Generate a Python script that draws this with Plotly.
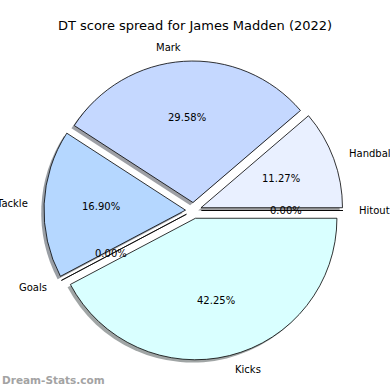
import numpy as np
import plotly.graph_objects as go

# ---- data ----
labels = ["Hitout", "Handball", "Mark", "Tackle", "Goals", "Kicks"]
values = [0, 8, 21, 12, 0, 30]
colors = ["#dfe9ff", "#e9f0ff", "#c5d8ff", "#b5d7ff", "#cfe6ff", "#d9ffff"]
title_text = "DT score spread for James Madden (2022)"
watermark = "Dream-Stats.com"

# ---- layout constants (pixels) ----
W = H = 390
CX, CY = 193.5, 210.5      # pie centre in px
R = 141.5                  # radius in px
PULL = 0.0565              # explode fraction
SH = 2.8                   # shadow offset px

half = R * (1 + PULL)
dom_x = [(CX - half) / W, (CX + half) / W]
dom_y = [1 - (CY + half) / H, 1 - (CY - half) / H]


def hex2rgb(h):
    h = h.lstrip("#")
    return tuple(int(h[i:i + 2], 16) for i in (0, 2, 4))


shadow_cols = ["rgba(%d,%d,%d,0.5)" % tuple(int(0.3 * c) for c in hex2rgb(col)) for col in colors]

fig = go.Figure()
# shadow
fig.add_trace(go.Pie(
    labels=labels, values=values, sort=False, direction="counterclockwise", rotation=90,
    pull=[PULL] * len(values), textinfo="none", hoverinfo="skip", showlegend=False,
    marker=dict(colors=shadow_cols, line=dict(width=0)),
    domain=dict(x=[dom_x[0] - SH / W, dom_x[1] - SH / W], y=[dom_y[0] - SH / H, dom_y[1] - SH / H]),
))
# main pie
fig.add_trace(go.Pie(
    labels=labels, values=values, sort=False, direction="counterclockwise", rotation=90,
    pull=[PULL] * len(values), textinfo="none", hoverinfo="label+percent", showlegend=False,
    marker=dict(colors=colors, line=dict(color="black", width=0.8)),
    domain=dict(x=dom_x, y=dom_y),
))

# text labels (matplotlib-like placement derived from data)
vals = np.array(values, dtype=float)
total = vals.sum()
start = np.concatenate([[0], np.cumsum(vals)[:-1]]) / total * 360
end = np.cumsum(vals) / total * 360
mid = np.radians((start + end) / 2)
annotations = []
for lab, v, th in zip(labels, vals, mid):
    ox = CX + PULL * R * np.cos(th)
    oy = CY - PULL * R * np.sin(th)
    # category label
    lx = ox + 1.1 * R * np.cos(th)
    ly = oy - 1.1 * R * np.sin(th)
    annotations.append(dict(
        x=lx / W, y=1 - ly / H, xref="paper", yref="paper", text=lab, showarrow=False,
        xanchor="left" if np.cos(th) > 0 else "right", yanchor="middle",
        font=dict(family="DejaVu Sans", size=10, color="black"),
    ))
    # percent label
    px = ox + 0.6 * R * np.cos(th)
    py = oy - 0.6 * R * np.sin(th)
    annotations.append(dict(
        x=px / W, y=1 - py / H, xref="paper", yref="paper", text="%.2f%%" % (100 * v / total),
        showarrow=False, xanchor="center", yanchor="middle",
        font=dict(family="DejaVu Sans", size=10, color="black"),
    ))

annotations.append(dict(
    x=0, y=1 - 380 / H, xref="paper", yref="paper", text="<b>%s</b>" % watermark, showarrow=False,
    xanchor="left", yanchor="middle", font=dict(family="DejaVu Sans", size=10.5, color="#a3a3a3"),
))

fig.update_layout(
    width=W, height=H, margin=dict(l=0, r=0, t=0, b=0),
    paper_bgcolor="white", plot_bgcolor="white",
    title=dict(text=title_text, x=0.5, xanchor="center", y=1 - 25 / H, yanchor="middle",
               font=dict(family="DejaVu Sans", size=13, color="black")),
    annotations=annotations,
)

fig.write_html("out.html", config={"displayModeBar": False},
               post_script="document.body.style.margin='0';document.body.style.overflow='hidden';")
